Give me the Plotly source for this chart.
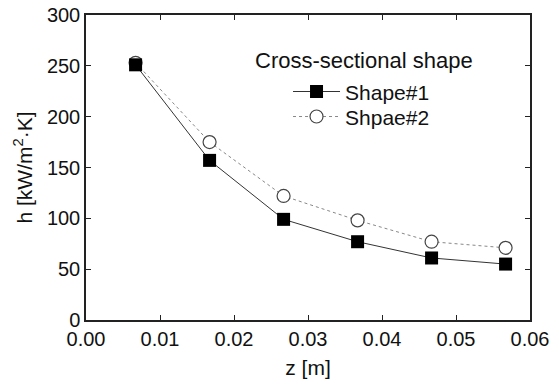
import plotly.graph_objects as go

z = [0.0067, 0.0167, 0.0267, 0.0367, 0.0467, 0.0567]
shape1 = [251, 157, 99, 77, 61, 55]
shape2 = [253, 175, 122, 98, 77, 71]
legend_title = "Cross-sectional shape"
names = ["Shape#1", "Shpae#2"]

FONT = "Liberation Sans, Arial, sans-serif"
TXT = "#111111"

fig = go.Figure()
fig.add_trace(go.Scatter(
    x=z, y=shape2, name=names[1], mode="lines+markers", legend="legend2",
    line=dict(color="#888888", width=1, dash="dot"),
    marker=dict(symbol="circle", size=13, color="white",
                line=dict(color="#444444", width=1.2)),
))
fig.add_trace(go.Scatter(
    x=z, y=shape1, name=names[0], mode="lines+markers", legend="legend",
    line=dict(color="#333333", width=1),
    marker=dict(symbol="square", size=13, color="black",
                line=dict(color="black", width=0)),
))

axis_common = dict(
    showline=True, linecolor="#222222", linewidth=1.5, mirror="ticks",
    ticks="inside", ticklen=5, tickwidth=1.2, tickcolor="#222222",
    showgrid=False, zeroline=False, automargin=False,
    tickfont=dict(family=FONT, size=20, color=TXT),
    title_font=dict(family=FONT, size=21, color=TXT),
)

leg_common = dict(
    x=0.455, xanchor="left", yanchor="middle",
    bgcolor="rgba(0,0,0,0)", borderwidth=0,
    font=dict(family=FONT, size=21, color=TXT),
    itemwidth=47,
)

fig.update_layout(
    width=559, height=384,
    margin=dict(l=86, r=29, t=15, b=64, autoexpand=False),
    paper_bgcolor="white", plot_bgcolor="white",
    font=dict(family=FONT, size=20, color=TXT),
    xaxis=dict(range=[0, 0.06], dtick=0.01, tickformat=".2f",
               title=dict(text="z [m]", standoff=12), **axis_common),
    yaxis=dict(range=[0, 300], dtick=50,
               title=dict(text="h [kW/m<sup>2</sup>·K]", standoff=9), **axis_common),
    showlegend=True,
    legend=dict(y=0.748, **leg_common),
    legend2=dict(y=0.666, **leg_common),
    annotations=[dict(
        text=legend_title, xref="paper", yref="paper",
        x=0.377, y=0.852, xanchor="left", yanchor="middle",
        showarrow=False, font=dict(family=FONT, size=22, color=TXT),
    )],
)

fig.write_html("out.html")
